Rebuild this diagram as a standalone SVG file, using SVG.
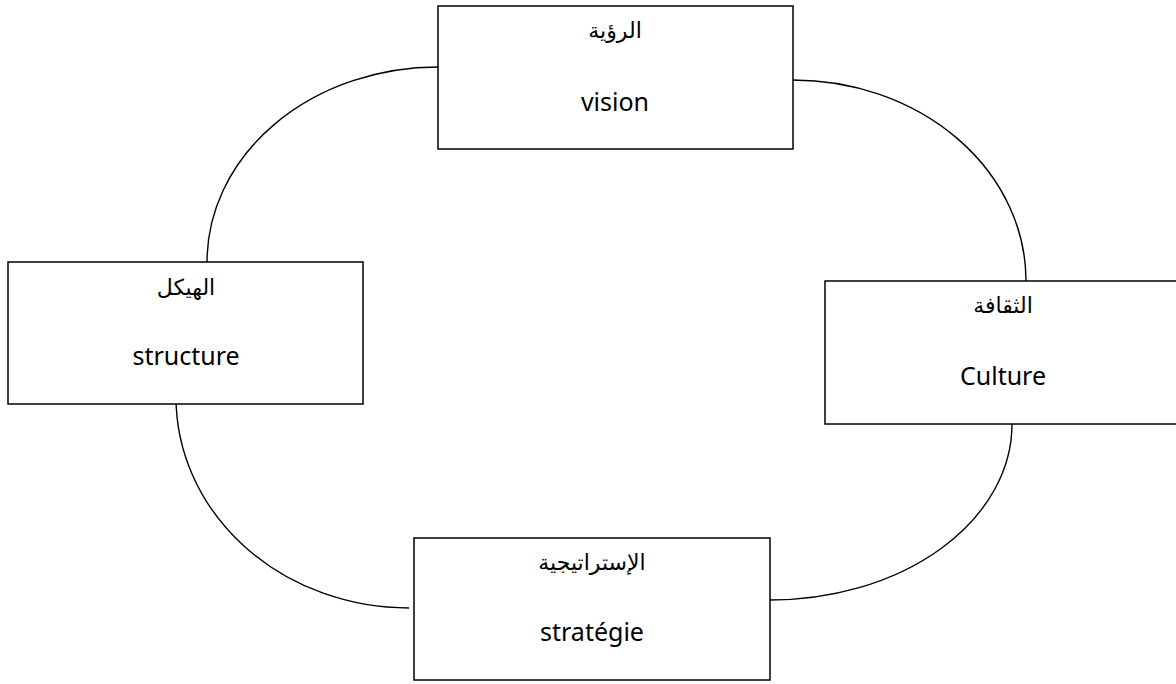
<svg xmlns="http://www.w3.org/2000/svg" width="1176" height="684" viewBox="0 0 1176 684">
  <style>
    .box { fill: #ffffff; stroke: #000000; stroke-width: 1.5; }
    .link { fill: none; stroke: #000000; stroke-width: 1.4; }
    .ar { font-family: "DejaVu Sans", "Noto Sans", sans-serif; font-size: 22px; fill: #000000; text-anchor: middle; }
    .en { font-family: "Noto Sans", "Open Sans", sans-serif; font-size: 25px; fill: #000000; text-anchor: middle; }
  </style>
  <rect x="0" y="0" width="1176" height="684" fill="#ffffff"/>

  <!-- curved links between the four boxes -->
  <g id="connectors">
    <path class="link" d="M438,67 A231,195 0 0 0 207,262"/>
    <path class="link" d="M793,80 A233,201 0 0 1 1026,281"/>
    <path class="link" d="M1012,424 A242,176 0 0 1 770,600"/>
    <path class="link" d="M176,397 A233,211 0 0 0 409,608"/>
  </g>

  <g id="vision">
    <rect class="box" x="438" y="6" width="355" height="143"/>
    <text class="ar" x="615" y="38" direction="rtl">الرؤية</text>
    <text class="en" x="615" y="111">vision</text>
  </g>

  <g id="structure">
    <rect class="box" x="8" y="262" width="355" height="142"/>
    <text class="ar" x="186" y="295" direction="rtl">الهيكل</text>
    <text class="en" x="186" y="365">structure</text>
  </g>

  <g id="culture">
    <rect class="box" x="825" y="281" width="360" height="143"/>
    <text class="ar" x="1003" y="313" direction="rtl">الثقافة</text>
    <text class="en" x="1003" y="385">Culture</text>
  </g>

  <g id="strategie">
    <rect class="box" x="414" y="538" width="356" height="142"/>
    <text class="ar" x="592" y="570" direction="rtl">الإستراتيجية</text>
    <text class="en" x="592" y="641">stratégie</text>
  </g>
</svg>
